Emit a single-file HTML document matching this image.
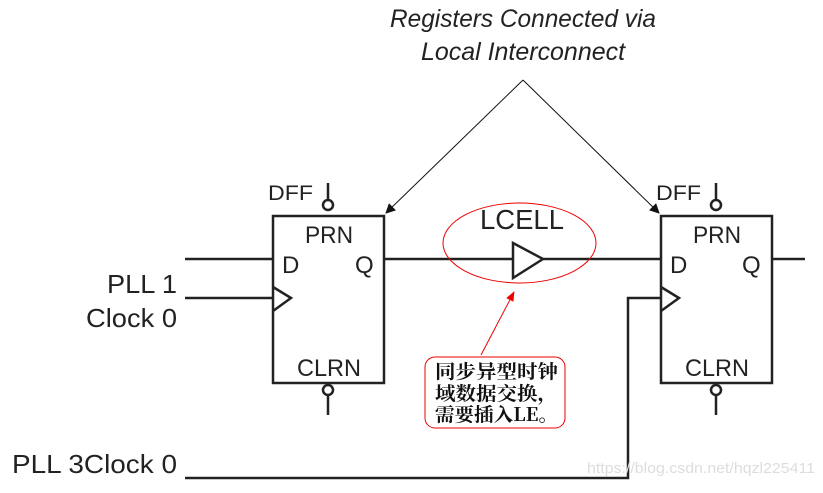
<!DOCTYPE html>
<html><head><meta charset="utf-8"><style>
html,body{margin:0;padding:0;background:#fff;width:823px;height:493px;overflow:hidden}
</style></head><body>
<svg width="823" height="493" viewBox="0 0 823 493" xmlns="http://www.w3.org/2000/svg" font-family="'Liberation Sans', sans-serif">
<defs>
<marker id="ah" markerWidth="10" markerHeight="10" refX="9" refY="5" orient="auto" markerUnits="userSpaceOnUse"><path d="M0,0 L10,5 L0,10 z" fill="#111"/></marker>
<marker id="rh" markerWidth="10" markerHeight="10" refX="9" refY="5" orient="auto" markerUnits="userSpaceOnUse"><path d="M0,1 L10,5 L0,9 z" fill="#e00"/></marker>
</defs>
<text x="523" y="27" font-size="25" font-style="italic" text-anchor="middle" textLength="266" lengthAdjust="spacingAndGlyphs" fill="#222">Registers Connected via</text>
<text x="523" y="60" font-size="25" font-style="italic" text-anchor="middle" textLength="204" lengthAdjust="spacingAndGlyphs" fill="#222">Local Interconnect</text>
<line x1="523" y1="80" x2="386" y2="213" stroke="#111" stroke-width="1" marker-end="url(#ah)"/>
<line x1="523" y1="80" x2="659" y2="213" stroke="#111" stroke-width="1" marker-end="url(#ah)"/>
<g stroke="#222" stroke-width="2.5" fill="none">
<rect x="273" y="216" width="111" height="167"/>
<rect x="661" y="216" width="111" height="167"/>
<line x1="185" y1="259" x2="273" y2="259"/>
<line x1="185" y1="298" x2="273" y2="298"/>
<polyline points="273,287 291,298 273,311"/>
<line x1="384" y1="259" x2="513" y2="259"/>
<line x1="543" y1="259" x2="661" y2="259"/>
<polygon points="513,243 543,259 513,278"/>
<line x1="772" y1="259" x2="805" y2="259"/>
<polyline points="661,298 628,298 628,478 185,478"/>
<polyline points="661,287 679,298 661,311"/>
<line x1="328" y1="183" x2="328" y2="200"/><circle cx="328" cy="205" r="5"/>
<line x1="328" y1="395" x2="328" y2="415"/><circle cx="328" cy="390" r="5"/>
<line x1="716" y1="183" x2="716" y2="200"/><circle cx="716" cy="205" r="5"/>
<line x1="716" y1="395" x2="716" y2="415"/><circle cx="716" cy="390" r="5"/>
</g>
<g fill="#222" font-size="24">
<text x="268" y="200" font-size="21" textLength="45" lengthAdjust="spacingAndGlyphs">DFF</text>
<text x="656" y="200" font-size="21" textLength="45" lengthAdjust="spacingAndGlyphs">DFF</text>
<text x="305" y="243" textLength="48" lengthAdjust="spacingAndGlyphs">PRN</text><text x="693" y="243" textLength="48" lengthAdjust="spacingAndGlyphs">PRN</text>
<text x="282" y="273">D</text><text x="355" y="273">Q</text>
<text x="670" y="273">D</text><text x="742" y="273">Q</text>
<text x="297" y="376" textLength="64" lengthAdjust="spacingAndGlyphs">CLRN</text><text x="685" y="376" textLength="64" lengthAdjust="spacingAndGlyphs">CLRN</text>
<text x="480" y="229" font-size="28" textLength="84" lengthAdjust="spacingAndGlyphs">LCELL</text>
<text x="107" y="293" font-size="26" textLength="70" lengthAdjust="spacingAndGlyphs">PLL 1</text>
<text x="86" y="327" font-size="26" textLength="91" lengthAdjust="spacingAndGlyphs">Clock 0</text>
<text x="12" y="473" font-size="26" textLength="165" lengthAdjust="spacingAndGlyphs">PLL 3Clock 0</text>
</g>
<ellipse cx="519.5" cy="243" rx="76.5" ry="40" fill="none" stroke="#e00" stroke-width="1"/>
<line x1="481" y1="355" x2="514" y2="292" stroke="#e00" stroke-width="1" marker-end="url(#rh)"/>
<rect x="425" y="357" width="140" height="71" rx="10" fill="none" stroke="#e00" stroke-width="1"/>
<g font-family="'Noto Serif CJK SC',serif" font-weight="bold" font-size="19" fill="#111">
<text x="435" y="378" textLength="123" lengthAdjust="spacingAndGlyphs">同步异型时钟</text>
<text x="435" y="400" textLength="123" lengthAdjust="spacingAndGlyphs">域数据交换，</text>
<text x="435" y="421" textLength="123" lengthAdjust="spacingAndGlyphs">需要插入LE。</text>
</g>
<text x="587" y="473" font-size="15" fill="#ddd" textLength="228" lengthAdjust="spacingAndGlyphs">https://blog.csdn.net/hqzl225411</text>
</svg>
</body></html>
